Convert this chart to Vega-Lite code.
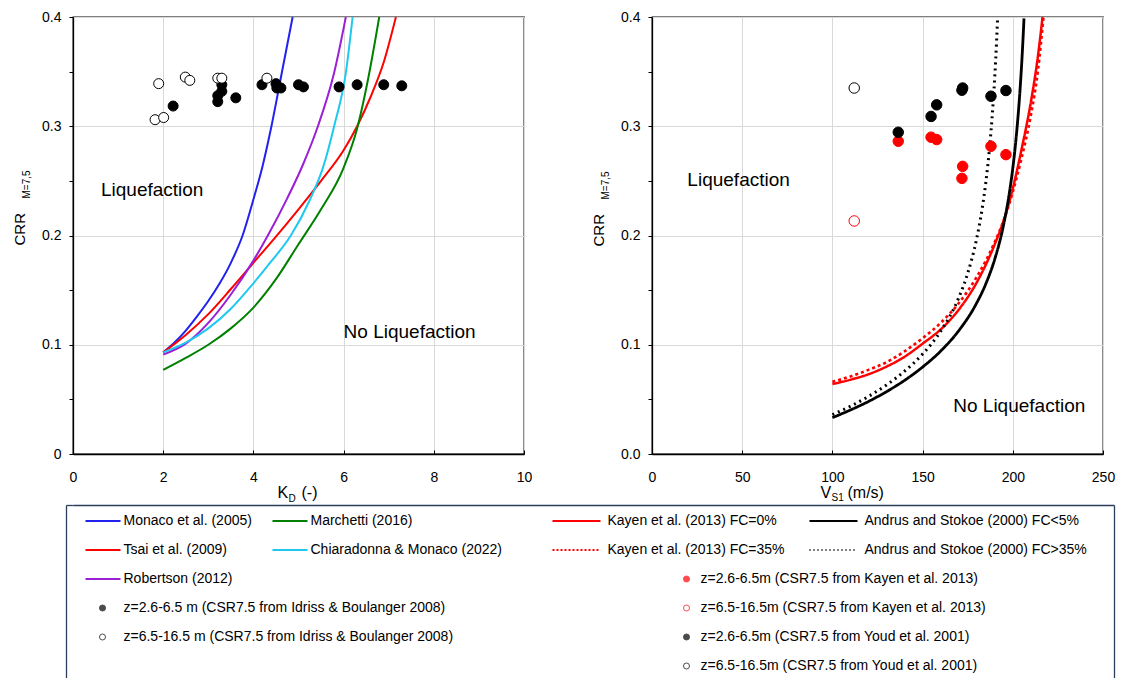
{
"$schema": "https://vega.github.io/schema/vega-lite/v6.json",
"padding": {"left": 11, "top": 9, "right": 0, "bottom": 0},
"background": "#ffffff",
"config": {
  "font": "Liberation Sans",
  "view": {"stroke": "#000000", "strokeWidth": 1.3},
  "axis": {"labelFont": "Liberation Sans", "titleFont": "Liberation Sans", "labelColor": "#000000", "titleColor": "#000000", "labelFontSize": 14, "titleFontWeight": "normal", "domainColor": "#000000", "domainWidth": 1.3, "tickColor": "#000000", "gridColor": "#d9d9d9", "gridWidth": 1},
  "legend": {"labelFont": "Liberation Sans", "labelFontSize": 14, "labelColor": "#000000", "labelLimit": 700, "padding": 0},
  "text": {"font": "Liberation Sans"}
},
"datasets": {
  "kd_curves": [
    {"ref": "Monaco et al. (2005)", "kd": 2.0, "crr": 0.093},
    {"ref": "Monaco et al. (2005)", "kd": 2.25, "crr": 0.102},
    {"ref": "Monaco et al. (2005)", "kd": 2.5, "crr": 0.113},
    {"ref": "Monaco et al. (2005)", "kd": 2.75, "crr": 0.126},
    {"ref": "Monaco et al. (2005)", "kd": 3.0, "crr": 0.140},
    {"ref": "Monaco et al. (2005)", "kd": 3.25, "crr": 0.156},
    {"ref": "Monaco et al. (2005)", "kd": 3.5, "crr": 0.175},
    {"ref": "Monaco et al. (2005)", "kd": 3.76, "crr": 0.200},
    {"ref": "Monaco et al. (2005)", "kd": 4.0, "crr": 0.233},
    {"ref": "Monaco et al. (2005)", "kd": 4.2, "crr": 0.263},
    {"ref": "Monaco et al. (2005)", "kd": 4.4, "crr": 0.300},
    {"ref": "Monaco et al. (2005)", "kd": 4.63, "crr": 0.349},
    {"ref": "Monaco et al. (2005)", "kd": 4.87, "crr": 0.400},
    {"ref": "Tsai et al. (2009)", "kd": 2.0, "crr": 0.093},
    {"ref": "Tsai et al. (2009)", "kd": 2.5, "crr": 0.109},
    {"ref": "Tsai et al. (2009)", "kd": 3.0, "crr": 0.128},
    {"ref": "Tsai et al. (2009)", "kd": 3.5, "crr": 0.151},
    {"ref": "Tsai et al. (2009)", "kd": 4.0, "crr": 0.175},
    {"ref": "Tsai et al. (2009)", "kd": 4.5, "crr": 0.199},
    {"ref": "Tsai et al. (2009)", "kd": 5.0, "crr": 0.224},
    {"ref": "Tsai et al. (2009)", "kd": 5.5, "crr": 0.250},
    {"ref": "Tsai et al. (2009)", "kd": 6.0, "crr": 0.278},
    {"ref": "Tsai et al. (2009)", "kd": 6.3, "crr": 0.300},
    {"ref": "Tsai et al. (2009)", "kd": 6.6, "crr": 0.327},
    {"ref": "Tsai et al. (2009)", "kd": 6.9, "crr": 0.360},
    {"ref": "Tsai et al. (2009)", "kd": 7.16, "crr": 0.400},
    {"ref": "Robertson (2012)", "kd": 2.0, "crr": 0.091},
    {"ref": "Robertson (2012)", "kd": 2.5, "crr": 0.101},
    {"ref": "Robertson (2012)", "kd": 3.0, "crr": 0.120},
    {"ref": "Robertson (2012)", "kd": 3.5, "crr": 0.146},
    {"ref": "Robertson (2012)", "kd": 4.0, "crr": 0.177},
    {"ref": "Robertson (2012)", "kd": 4.32, "crr": 0.200},
    {"ref": "Robertson (2012)", "kd": 4.75, "crr": 0.234},
    {"ref": "Robertson (2012)", "kd": 5.1, "crr": 0.265},
    {"ref": "Robertson (2012)", "kd": 5.43, "crr": 0.300},
    {"ref": "Robertson (2012)", "kd": 5.79, "crr": 0.349},
    {"ref": "Robertson (2012)", "kd": 6.05, "crr": 0.400},
    {"ref": "Chiaradonna & Monaco (2022)", "kd": 2.0, "crr": 0.093},
    {"ref": "Chiaradonna & Monaco (2022)", "kd": 2.5, "crr": 0.102},
    {"ref": "Chiaradonna & Monaco (2022)", "kd": 3.0, "crr": 0.115},
    {"ref": "Chiaradonna & Monaco (2022)", "kd": 3.5, "crr": 0.133},
    {"ref": "Chiaradonna & Monaco (2022)", "kd": 3.87, "crr": 0.150},
    {"ref": "Chiaradonna & Monaco (2022)", "kd": 4.39, "crr": 0.176},
    {"ref": "Chiaradonna & Monaco (2022)", "kd": 4.83, "crr": 0.200},
    {"ref": "Chiaradonna & Monaco (2022)", "kd": 5.25, "crr": 0.2325},
    {"ref": "Chiaradonna & Monaco (2022)", "kd": 5.55, "crr": 0.263},
    {"ref": "Chiaradonna & Monaco (2022)", "kd": 5.79, "crr": 0.300},
    {"ref": "Chiaradonna & Monaco (2022)", "kd": 6.05, "crr": 0.349},
    {"ref": "Chiaradonna & Monaco (2022)", "kd": 6.2, "crr": 0.400},
    {"ref": "Marchetti (2016)", "kd": 2.0, "crr": 0.077},
    {"ref": "Marchetti (2016)", "kd": 2.5, "crr": 0.088},
    {"ref": "Marchetti (2016)", "kd": 3.0, "crr": 0.100},
    {"ref": "Marchetti (2016)", "kd": 3.5, "crr": 0.115},
    {"ref": "Marchetti (2016)", "kd": 4.0, "crr": 0.134},
    {"ref": "Marchetti (2016)", "kd": 4.5, "crr": 0.160},
    {"ref": "Marchetti (2016)", "kd": 5.0, "crr": 0.192},
    {"ref": "Marchetti (2016)", "kd": 5.5, "crr": 0.224},
    {"ref": "Marchetti (2016)", "kd": 6.0, "crr": 0.262},
    {"ref": "Marchetti (2016)", "kd": 6.3, "crr": 0.298},
    {"ref": "Marchetti (2016)", "kd": 6.57, "crr": 0.349},
    {"ref": "Marchetti (2016)", "kd": 6.79, "crr": 0.400}
  ],
  "kd_points": [
    {"depth": "z=2.6-6.5 m (CSR7.5 from Idriss & Boulanger 2008)", "kd": 2.22, "crr": 0.3185},
    {"depth": "z=2.6-6.5 m (CSR7.5 from Idriss & Boulanger 2008)", "kd": 3.21, "crr": 0.3225},
    {"depth": "z=2.6-6.5 m (CSR7.5 from Idriss & Boulanger 2008)", "kd": 3.21, "crr": 0.328},
    {"depth": "z=2.6-6.5 m (CSR7.5 from Idriss & Boulanger 2008)", "kd": 3.30, "crr": 0.332},
    {"depth": "z=2.6-6.5 m (CSR7.5 from Idriss & Boulanger 2008)", "kd": 3.30, "crr": 0.338},
    {"depth": "z=2.6-6.5 m (CSR7.5 from Idriss & Boulanger 2008)", "kd": 3.61, "crr": 0.326},
    {"depth": "z=2.6-6.5 m (CSR7.5 from Idriss & Boulanger 2008)", "kd": 4.19, "crr": 0.338},
    {"depth": "z=2.6-6.5 m (CSR7.5 from Idriss & Boulanger 2008)", "kd": 4.50, "crr": 0.339},
    {"depth": "z=2.6-6.5 m (CSR7.5 from Idriss & Boulanger 2008)", "kd": 4.52, "crr": 0.335},
    {"depth": "z=2.6-6.5 m (CSR7.5 from Idriss & Boulanger 2008)", "kd": 4.61, "crr": 0.335},
    {"depth": "z=2.6-6.5 m (CSR7.5 from Idriss & Boulanger 2008)", "kd": 5.00, "crr": 0.338},
    {"depth": "z=2.6-6.5 m (CSR7.5 from Idriss & Boulanger 2008)", "kd": 5.11, "crr": 0.336},
    {"depth": "z=2.6-6.5 m (CSR7.5 from Idriss & Boulanger 2008)", "kd": 5.90, "crr": 0.336},
    {"depth": "z=2.6-6.5 m (CSR7.5 from Idriss & Boulanger 2008)", "kd": 6.30, "crr": 0.338},
    {"depth": "z=2.6-6.5 m (CSR7.5 from Idriss & Boulanger 2008)", "kd": 6.89, "crr": 0.338},
    {"depth": "z=2.6-6.5 m (CSR7.5 from Idriss & Boulanger 2008)", "kd": 7.29, "crr": 0.337},
    {"depth": "z=6.5-16.5 m (CSR7.5 from Idriss & Boulanger 2008)", "kd": 1.90, "crr": 0.339},
    {"depth": "z=6.5-16.5 m (CSR7.5 from Idriss & Boulanger 2008)", "kd": 2.49, "crr": 0.345},
    {"depth": "z=6.5-16.5 m (CSR7.5 from Idriss & Boulanger 2008)", "kd": 2.59, "crr": 0.342},
    {"depth": "z=6.5-16.5 m (CSR7.5 from Idriss & Boulanger 2008)", "kd": 3.21, "crr": 0.344},
    {"depth": "z=6.5-16.5 m (CSR7.5 from Idriss & Boulanger 2008)", "kd": 3.30, "crr": 0.344},
    {"depth": "z=6.5-16.5 m (CSR7.5 from Idriss & Boulanger 2008)", "kd": 4.30, "crr": 0.344},
    {"depth": "z=6.5-16.5 m (CSR7.5 from Idriss & Boulanger 2008)", "kd": 1.82, "crr": 0.306},
    {"depth": "z=6.5-16.5 m (CSR7.5 from Idriss & Boulanger 2008)", "kd": 2.01, "crr": 0.308}
  ],
  "vs_curves": [
    {"ref": "Kayen et al. (2013) FC=0%", "vs1": 100, "crr": 0.064},
    {"ref": "Kayen et al. (2013) FC=0%", "vs1": 110, "crr": 0.068},
    {"ref": "Kayen et al. (2013) FC=0%", "vs1": 120, "crr": 0.073},
    {"ref": "Kayen et al. (2013) FC=0%", "vs1": 130, "crr": 0.080},
    {"ref": "Kayen et al. (2013) FC=0%", "vs1": 140, "crr": 0.089},
    {"ref": "Kayen et al. (2013) FC=0%", "vs1": 150, "crr": 0.101},
    {"ref": "Kayen et al. (2013) FC=0%", "vs1": 160, "crr": 0.114},
    {"ref": "Kayen et al. (2013) FC=0%", "vs1": 170, "crr": 0.132},
    {"ref": "Kayen et al. (2013) FC=0%", "vs1": 180, "crr": 0.157},
    {"ref": "Kayen et al. (2013) FC=0%", "vs1": 190, "crr": 0.192},
    {"ref": "Kayen et al. (2013) FC=0%", "vs1": 195, "crr": 0.214},
    {"ref": "Kayen et al. (2013) FC=0%", "vs1": 200, "crr": 0.243},
    {"ref": "Kayen et al. (2013) FC=0%", "vs1": 205, "crr": 0.280},
    {"ref": "Kayen et al. (2013) FC=0%", "vs1": 210, "crr": 0.322},
    {"ref": "Kayen et al. (2013) FC=0%", "vs1": 214, "crr": 0.365},
    {"ref": "Kayen et al. (2013) FC=0%", "vs1": 216.5, "crr": 0.400},
    {"ref": "Kayen et al. (2013) FC=35%", "vs1": 100, "crr": 0.066},
    {"ref": "Kayen et al. (2013) FC=35%", "vs1": 110, "crr": 0.071},
    {"ref": "Kayen et al. (2013) FC=35%", "vs1": 120, "crr": 0.077},
    {"ref": "Kayen et al. (2013) FC=35%", "vs1": 130, "crr": 0.084},
    {"ref": "Kayen et al. (2013) FC=35%", "vs1": 140, "crr": 0.094},
    {"ref": "Kayen et al. (2013) FC=35%", "vs1": 150, "crr": 0.106},
    {"ref": "Kayen et al. (2013) FC=35%", "vs1": 160, "crr": 0.120},
    {"ref": "Kayen et al. (2013) FC=35%", "vs1": 170, "crr": 0.138},
    {"ref": "Kayen et al. (2013) FC=35%", "vs1": 180, "crr": 0.162},
    {"ref": "Kayen et al. (2013) FC=35%", "vs1": 190, "crr": 0.194},
    {"ref": "Kayen et al. (2013) FC=35%", "vs1": 195, "crr": 0.214},
    {"ref": "Kayen et al. (2013) FC=35%", "vs1": 200, "crr": 0.240},
    {"ref": "Kayen et al. (2013) FC=35%", "vs1": 205, "crr": 0.272},
    {"ref": "Kayen et al. (2013) FC=35%", "vs1": 210, "crr": 0.310},
    {"ref": "Kayen et al. (2013) FC=35%", "vs1": 214, "crr": 0.352},
    {"ref": "Kayen et al. (2013) FC=35%", "vs1": 217, "crr": 0.400},
    {"ref": "Andrus and Stokoe (2000) FC<5%", "vs1": 100, "crr": 0.0333},
    {"ref": "Andrus and Stokoe (2000) FC<5%", "vs1": 110, "crr": 0.0403},
    {"ref": "Andrus and Stokoe (2000) FC<5%", "vs1": 120, "crr": 0.0481},
    {"ref": "Andrus and Stokoe (2000) FC<5%", "vs1": 130, "crr": 0.0571},
    {"ref": "Andrus and Stokoe (2000) FC<5%", "vs1": 140, "crr": 0.0674},
    {"ref": "Andrus and Stokoe (2000) FC<5%", "vs1": 150, "crr": 0.0796},
    {"ref": "Andrus and Stokoe (2000) FC<5%", "vs1": 160, "crr": 0.0942},
    {"ref": "Andrus and Stokoe (2000) FC<5%", "vs1": 170, "crr": 0.1128},
    {"ref": "Andrus and Stokoe (2000) FC<5%", "vs1": 180, "crr": 0.1383},
    {"ref": "Andrus and Stokoe (2000) FC<5%", "vs1": 185, "crr": 0.1556},
    {"ref": "Andrus and Stokoe (2000) FC<5%", "vs1": 190, "crr": 0.1784},
    {"ref": "Andrus and Stokoe (2000) FC<5%", "vs1": 195, "crr": 0.2106},
    {"ref": "Andrus and Stokoe (2000) FC<5%", "vs1": 198, "crr": 0.2379},
    {"ref": "Andrus and Stokoe (2000) FC<5%", "vs1": 200, "crr": 0.2616},
    {"ref": "Andrus and Stokoe (2000) FC<5%", "vs1": 202, "crr": 0.2921},
    {"ref": "Andrus and Stokoe (2000) FC<5%", "vs1": 204, "crr": 0.3331},
    {"ref": "Andrus and Stokoe (2000) FC<5%", "vs1": 205, "crr": 0.3594},
    {"ref": "Andrus and Stokoe (2000) FC<5%", "vs1": 206, "crr": 0.3915},
    {"ref": "Andrus and Stokoe (2000) FC<5%", "vs1": 206.2, "crr": 0.3987},
    {"ref": "Andrus and Stokoe (2000) FC>35%", "vs1": 100, "crr": 0.0360},
    {"ref": "Andrus and Stokoe (2000) FC>35%", "vs1": 110, "crr": 0.0437},
    {"ref": "Andrus and Stokoe (2000) FC>35%", "vs1": 120, "crr": 0.0527},
    {"ref": "Andrus and Stokoe (2000) FC>35%", "vs1": 130, "crr": 0.0632},
    {"ref": "Andrus and Stokoe (2000) FC>35%", "vs1": 140, "crr": 0.0758},
    {"ref": "Andrus and Stokoe (2000) FC>35%", "vs1": 150, "crr": 0.0915},
    {"ref": "Andrus and Stokoe (2000) FC>35%", "vs1": 160, "crr": 0.1123},
    {"ref": "Andrus and Stokoe (2000) FC>35%", "vs1": 170, "crr": 0.1429},
    {"ref": "Andrus and Stokoe (2000) FC>35%", "vs1": 175, "crr": 0.1654},
    {"ref": "Andrus and Stokoe (2000) FC>35%", "vs1": 180, "crr": 0.1973},
    {"ref": "Andrus and Stokoe (2000) FC>35%", "vs1": 183, "crr": 0.2244},
    {"ref": "Andrus and Stokoe (2000) FC>35%", "vs1": 185, "crr": 0.2480},
    {"ref": "Andrus and Stokoe (2000) FC>35%", "vs1": 187, "crr": 0.2783},
    {"ref": "Andrus and Stokoe (2000) FC>35%", "vs1": 189, "crr": 0.3191},
    {"ref": "Andrus and Stokoe (2000) FC>35%", "vs1": 190, "crr": 0.3454},
    {"ref": "Andrus and Stokoe (2000) FC>35%", "vs1": 191, "crr": 0.3774},
    {"ref": "Andrus and Stokoe (2000) FC>35%", "vs1": 191.6, "crr": 0.4000}
  ],
  "vs_points": [
    {"group": "z=2.6-6.5m (CSR7.5 from Kayen et al. 2013)", "vs1": 136.5, "crr": 0.2863},
    {"group": "z=2.6-6.5m (CSR7.5 from Kayen et al. 2013)", "vs1": 154.7, "crr": 0.290},
    {"group": "z=2.6-6.5m (CSR7.5 from Kayen et al. 2013)", "vs1": 157.8, "crr": 0.2878},
    {"group": "z=2.6-6.5m (CSR7.5 from Kayen et al. 2013)", "vs1": 172.2, "crr": 0.2633},
    {"group": "z=2.6-6.5m (CSR7.5 from Kayen et al. 2013)", "vs1": 171.8, "crr": 0.2523},
    {"group": "z=2.6-6.5m (CSR7.5 from Kayen et al. 2013)", "vs1": 187.9, "crr": 0.2817},
    {"group": "z=2.6-6.5m (CSR7.5 from Kayen et al. 2013)", "vs1": 196.2, "crr": 0.274},
    {"group": "z=6.5-16.5m (CSR7.5 from Kayen et al. 2013)", "vs1": 112.1, "crr": 0.2133},
    {"group": "z=2.6-6.5m (CSR7.5 from Youd et al. 2001)", "vs1": 136.5, "crr": 0.2945},
    {"group": "z=2.6-6.5m (CSR7.5 from Youd et al. 2001)", "vs1": 154.7, "crr": 0.309},
    {"group": "z=2.6-6.5m (CSR7.5 from Youd et al. 2001)", "vs1": 157.8, "crr": 0.3196},
    {"group": "z=2.6-6.5m (CSR7.5 from Youd et al. 2001)", "vs1": 172.2, "crr": 0.335},
    {"group": "z=2.6-6.5m (CSR7.5 from Youd et al. 2001)", "vs1": 171.8, "crr": 0.333},
    {"group": "z=2.6-6.5m (CSR7.5 from Youd et al. 2001)", "vs1": 187.9, "crr": 0.3275},
    {"group": "z=2.6-6.5m (CSR7.5 from Youd et al. 2001)", "vs1": 196.2, "crr": 0.3327},
    {"group": "z=6.5-16.5m (CSR7.5 from Youd et al. 2001)", "vs1": 112.1, "crr": 0.335}
  ]
},
"columns": 1,
"spacing": 0,
"resolve": {
  "scale": {"color": "independent", "fill": "independent", "stroke": "independent", "strokeDash": "independent"},
  "legend": {"color": "independent", "fill": "independent", "stroke": "independent", "strokeDash": "independent"}
},
"concat": [
  {
    "spacing": 57,
    "resolve": {
      "scale": {"color": "independent", "fill": "independent", "stroke": "independent", "strokeDash": "independent"},
      "legend": {"color": "independent", "fill": "independent", "stroke": "independent", "strokeDash": "independent"}
    },
    "hconcat": [
      {
        "width": 451, "height": 437,
        "resolve": {"axis": {"x": "independent", "y": "independent"}},
        "layer": [
          {
            "data": {"name": "kd_curves"},
            "mark": {"type": "line", "strokeWidth": 2, "interpolate": "monotone", "clip": true},
            "encoding": {
              "x": {"field": "kd", "type": "quantitative", "scale": {"domain": [0, 10], "nice": false},
                "axis": {"values": [0, 2, 4, 6, 8, 10], "labelFlush": false, "ticks": true, "tickSize": -4, "labelPadding": 20, "grid": true,
                  "title": "K", "titleFontSize": 16, "titleAlign": "left", "titleBaseline": "alphabetic", "titleAngle": 0, "titleX": 204, "titleY": 43}},
              "y": {"field": "crr", "type": "quantitative", "scale": {"domain": [0, 0.4], "nice": false},
                "axis": {"values": [0, 0.05, 0.1, 0.15, 0.2, 0.25, 0.3, 0.35, 0.4],
                  "labelExpr": "round(datum.value*20) % 2 == 0 ? format(datum.value, '.1~f') : ''",
                  "tickSize": 4, "labelPadding": 8, "grid": true,
                  "gridOpacity": {"condition": {"test": "round(datum.value*20) % 2 == 1", "value": 0}, "value": 1},
                  "title": "CRR", "titleFontSize": 15, "titleAngle": -90, "titleAlign": "left", "titleBaseline": "alphabetic", "titleX": -49, "titleY": 228}},
              "color": {"field": "ref", "type": "nominal",
                "scale": {"domain": ["Monaco et al. (2005)", "Tsai et al. (2009)", "Robertson (2012)", "Marchetti (2016)", "Chiaradonna & Monaco (2022)"],
                  "range": ["#2222ee", "#ff0000", "#9a1fd6", "#008000", "#1ec8ef"]}, "legend": null}
            }
          },
          {
            "data": {"name": "kd_points"},
            "mark": {"type": "point", "shape": "circle", "size": 100, "filled": true, "opacity": 1, "stroke": "#000000", "strokeWidth": 1},
            "encoding": {
              "x": {"field": "kd", "type": "quantitative",
                "axis": {"orient": "bottom", "labels": false, "ticks": false, "domain": false, "grid": false,
                  "title": "D", "titleFontSize": 10, "titleAlign": "left", "titleBaseline": "alphabetic", "titleAngle": 0, "titleX": 215, "titleY": 47}},
              "y": {"field": "crr", "type": "quantitative",
                "axis": {"orient": "left", "labels": false, "ticks": false, "domain": false, "grid": false,
                  "title": "M=7,5", "titleFontSize": 10, "titleAngle": -90, "titleAlign": "left", "titleBaseline": "alphabetic", "titleX": -44, "titleY": 181}},
              "fill": {"field": "depth", "type": "nominal",
                "scale": {"domain": ["z=2.6-6.5 m (CSR7.5 from Idriss & Boulanger 2008)", "z=6.5-16.5 m (CSR7.5 from Idriss & Boulanger 2008)"], "range": ["#000000", "#ffffff"]}, "legend": null}
            }
          },
          {
            "data": {"values": [{"label": "Liquefaction", "kd": 0.62, "crr": 0.236}, {"label": "No Liquefaction", "kd": 6.0, "crr": 0.106}]},
            "mark": {"type": "text", "fontSize": 19, "align": "left", "baseline": "alphabetic", "color": "#000000"},
            "encoding": {
              "x": {"field": "kd", "type": "quantitative",
                "axis": {"orient": "bottom", "labels": false, "ticks": false, "domain": false, "grid": false,
                  "title": "(-)", "titleFontSize": 16, "titleAlign": "left", "titleBaseline": "alphabetic", "titleAngle": 0, "titleX": 228, "titleY": 43}},
              "y": {"field": "crr", "type": "quantitative", "axis": null},
              "text": {"field": "label"}
            }
          }
        ]
      },
      {
        "width": 451, "height": 437,
        "resolve": {"axis": {"x": "independent", "y": "independent"}},
        "layer": [
          {
            "data": {"name": "vs_curves"},
            "mark": {"type": "line", "interpolate": "monotone", "clip": true},
            "encoding": {
              "x": {"field": "vs1", "type": "quantitative", "scale": {"domain": [0, 250], "nice": false},
                "axis": {"values": [0, 50, 100, 150, 200, 250], "labelFlush": false, "ticks": true, "tickSize": -4, "labelPadding": 20, "grid": true,
                  "title": "V", "titleFontSize": 16, "titleAlign": "left", "titleBaseline": "alphabetic", "titleAngle": 0, "titleX": 168, "titleY": 43}},
              "y": {"field": "crr", "type": "quantitative", "scale": {"domain": [0, 0.4], "nice": false},
                "axis": {"values": [0, 0.05, 0.1, 0.15, 0.2, 0.25, 0.3, 0.35, 0.4],
                  "labelExpr": "round(datum.value*20) % 2 == 0 ? format(datum.value, '.1f') : ''",
                  "tickSize": 4, "labelPadding": 8, "grid": true,
                  "gridOpacity": {"condition": {"test": "round(datum.value*20) % 2 == 1", "value": 0}, "value": 1},
                  "title": "CRR", "titleFontSize": 15, "titleAngle": -90, "titleAlign": "left", "titleBaseline": "alphabetic", "titleX": -49, "titleY": 229}},
              "color": {"field": "ref", "type": "nominal",
                "scale": {"domain": ["Kayen et al. (2013) FC=0%", "Kayen et al. (2013) FC=35%", "Andrus and Stokoe (2000) FC<5%", "Andrus and Stokoe (2000) FC>35%"],
                  "range": ["#ff0000", "#ff0000", "#000000", "#000000"]}, "legend": null},
              "strokeDash": {"field": "ref", "type": "nominal",
                "scale": {"domain": ["Kayen et al. (2013) FC=0%", "Kayen et al. (2013) FC=35%", "Andrus and Stokoe (2000) FC<5%", "Andrus and Stokoe (2000) FC>35%"],
                  "range": [[1, 0], [3, 3], [1, 0], [2, 4]]}, "legend": null},
              "strokeWidth": {"field": "ref", "type": "nominal",
                "scale": {"domain": ["Kayen et al. (2013) FC=0%", "Kayen et al. (2013) FC=35%", "Andrus and Stokoe (2000) FC<5%", "Andrus and Stokoe (2000) FC>35%"],
                  "range": [2.5, 3, 2.5, 2]}, "legend": null}
            }
          },
          {
            "data": {"name": "vs_points"},
            "mark": {"type": "point", "shape": "circle", "size": 110, "filled": true, "opacity": 1, "strokeWidth": 1},
            "encoding": {
              "x": {"field": "vs1", "type": "quantitative",
                "axis": {"orient": "bottom", "labels": false, "ticks": false, "domain": false, "grid": false,
                  "title": "S1", "titleFontSize": 10, "titleAlign": "left", "titleBaseline": "alphabetic", "titleAngle": 0, "titleX": 179, "titleY": 46}},
              "y": {"field": "crr", "type": "quantitative",
                "axis": {"orient": "left", "labels": false, "ticks": false, "domain": false, "grid": false,
                  "title": "M=7,5", "titleFontSize": 10, "titleAngle": -90, "titleAlign": "left", "titleBaseline": "alphabetic", "titleX": -44, "titleY": 182}},
              "fill": {"field": "group", "type": "nominal",
                "scale": {"domain": ["z=2.6-6.5m (CSR7.5 from Kayen et al. 2013)", "z=6.5-16.5m (CSR7.5 from Kayen et al. 2013)", "z=2.6-6.5m (CSR7.5 from Youd et al. 2001)", "z=6.5-16.5m (CSR7.5 from Youd et al. 2001)"],
                  "range": ["#ff0000", "#ffffff", "#000000", "#ffffff"]}, "legend": null},
              "stroke": {"field": "group", "type": "nominal",
                "scale": {"domain": ["z=2.6-6.5m (CSR7.5 from Kayen et al. 2013)", "z=6.5-16.5m (CSR7.5 from Kayen et al. 2013)", "z=2.6-6.5m (CSR7.5 from Youd et al. 2001)", "z=6.5-16.5m (CSR7.5 from Youd et al. 2001)"],
                  "range": ["#ff0000", "#ff0000", "#000000", "#000000"]}, "legend": null}
            }
          },
          {
            "data": {"values": [{"label": "Liquefaction", "vs1": 19.6, "crr": 0.2456}, {"label": "No Liquefaction", "vs1": 167, "crr": 0.038}]},
            "mark": {"type": "text", "fontSize": 19, "align": "left", "baseline": "alphabetic", "color": "#000000"},
            "encoding": {
              "x": {"field": "vs1", "type": "quantitative",
                "axis": {"orient": "bottom", "labels": false, "ticks": false, "domain": false, "grid": false,
                  "title": "(m/s)", "titleFontSize": 16, "titleAlign": "left", "titleBaseline": "alphabetic", "titleAngle": 0, "titleX": 195, "titleY": 43}},
              "y": {"field": "crr", "type": "quantitative", "axis": null},
              "text": {"field": "label"}
            }
          }
        ]
      }
    ]
  },
  {
    "width": 1041, "height": 190,
    "view": {"stroke": null},
    "resolve": {
      "scale": {"color": "independent", "fill": "independent", "stroke": "independent", "strokeDash": "independent"},
      "legend": {"color": "independent", "fill": "independent", "stroke": "independent", "strokeDash": "independent"},
      "axis": {"x": "independent", "y": "independent"}
    },
    "layer": [
      {
        "data": {"name": "kd_curves"},
        "transform": [{"filter": "false"}],
        "mark": {"type": "line", "strokeWidth": 2},
        "encoding": {
          "x": {"field": "kd", "type": "quantitative", "scale": {"domain": [0, 1]},
            "axis": {"orient": "top", "domain": true, "domainColor": "#2b3e5c", "domainWidth": 1.3, "labels": false, "ticks": false, "grid": false, "title": null}},
          "y": {"field": "crr", "type": "quantitative", "scale": {"domain": [0, 1]},
            "axis": {"orient": "left", "offset": 7, "domain": true, "domainColor": "#2b3e5c", "domainWidth": 1.3, "values": [1], "ticks": true, "tickSize": -7, "tickColor": "#2b3e5c", "tickWidth": 1.3, "labels": false, "grid": false, "title": null}},
          "color": {"field": "ref", "type": "nominal",
            "scale": {"domain": ["Monaco et al. (2005)", "Tsai et al. (2009)", "Robertson (2012)", "Marchetti (2016)", "Chiaradonna & Monaco (2022)"],
              "range": ["#2222ee", "#ff0000", "#9a1fd6", "#008000", "#1ec8ef"]},
            "legend": {"title": null, "orient": "none", "legendX": 8.5, "legendY": 9, "columns": 2, "symbolType": "M-1.5,0H16", "symbolSize": 16, "symbolStrokeWidth": 2, "labelOffset": 28, "columnPadding": 16, "rowPadding": 15}}
        }
      },
      {
        "data": {"name": "kd_points"},
        "transform": [{"filter": "false"}],
        "mark": {"type": "point", "shape": "circle", "filled": true, "stroke": "#000000", "strokeWidth": 1},
        "encoding": {
          "x": {"field": "kd", "type": "quantitative", "scale": {"domain": [0, 1]}, "axis": null},
          "y": {"field": "crr", "type": "quantitative", "scale": {"domain": [0, 1]},
            "axis": {"orient": "right", "domain": true, "domainColor": "#2b3e5c", "domainWidth": 1.3, "labels": false, "ticks": false, "grid": false, "title": null}},
          "fill": {"field": "depth", "type": "nominal",
            "scale": {"domain": ["z=2.6-6.5 m (CSR7.5 from Idriss & Boulanger 2008)", "z=6.5-16.5 m (CSR7.5 from Idriss & Boulanger 2008)"], "range": ["#000000", "#ffffff"]},
            "legend": {"title": null, "orient": "none", "legendX": 22.5, "legendY": 96, "symbolType": "circle", "symbolSize": 36, "symbolStrokeWidth": 1, "symbolStrokeColor": "#000000", "labelOffset": 14, "rowPadding": 15}}
        }
      },
      {
        "data": {"name": "vs_curves"},
        "transform": [{"filter": "false"}],
        "mark": {"type": "line", "strokeWidth": 2},
        "encoding": {
          "x": {"field": "vs1", "type": "quantitative", "scale": {"domain": [0, 1]}, "axis": null},
          "y": {"field": "crr", "type": "quantitative", "scale": {"domain": [0, 1]}, "axis": null},
          "stroke": {"field": "ref", "type": "nominal",
            "scale": {"domain": ["Kayen et al. (2013) FC=0%", "Kayen et al. (2013) FC=35%", "Andrus and Stokoe (2000) FC<5%", "Andrus and Stokoe (2000) FC>35%"],
              "range": ["#ff0000", "#ff0000", "#000000", "#000000"]},
            "legend": {"title": null, "orient": "none", "legendX": 475.5, "legendY": 9, "columns": 2, "symbolType": "M-1.5,0H22.5", "symbolSize": 16, "symbolStrokeWidth": 2, "labelOffset": 45, "columnPadding": 20, "rowPadding": 15}},
          "strokeDash": {"field": "ref", "type": "nominal",
            "scale": {"domain": ["Kayen et al. (2013) FC=0%", "Kayen et al. (2013) FC=35%", "Andrus and Stokoe (2000) FC<5%", "Andrus and Stokoe (2000) FC>35%"],
              "range": [[1, 0], [2, 2], [1, 0], [1, 3]]},
            "legend": {"title": null, "orient": "none", "legendX": 475.5, "legendY": 9, "columns": 2, "symbolType": "M-1.5,0H22.5", "symbolSize": 16, "symbolStrokeWidth": 2, "labelOffset": 45, "columnPadding": 20, "rowPadding": 15}}
        }
      },
      {
        "data": {"name": "vs_points"},
        "transform": [{"filter": "false"}],
        "mark": {"type": "point", "shape": "circle", "filled": true, "strokeWidth": 1},
        "encoding": {
          "x": {"field": "vs1", "type": "quantitative", "scale": {"domain": [0, 1]}, "axis": null},
          "y": {"field": "crr", "type": "quantitative", "scale": {"domain": [0, 1]}, "axis": null},
          "fill": {"field": "group", "type": "nominal",
            "scale": {"domain": ["z=2.6-6.5m (CSR7.5 from Kayen et al. 2013)", "z=6.5-16.5m (CSR7.5 from Kayen et al. 2013)", "z=2.6-6.5m (CSR7.5 from Youd et al. 2001)", "z=6.5-16.5m (CSR7.5 from Youd et al. 2001)"],
              "range": ["#ff0000", "#ffffff", "#000000", "#ffffff"]},
            "legend": {"title": null, "orient": "none", "legendX": 606.5, "legendY": 67, "symbolType": "circle", "symbolSize": 36, "symbolStrokeWidth": 1, "labelOffset": 7, "rowPadding": 15}},
          "stroke": {"field": "group", "type": "nominal",
            "scale": {"domain": ["z=2.6-6.5m (CSR7.5 from Kayen et al. 2013)", "z=6.5-16.5m (CSR7.5 from Kayen et al. 2013)", "z=2.6-6.5m (CSR7.5 from Youd et al. 2001)", "z=6.5-16.5m (CSR7.5 from Youd et al. 2001)"],
              "range": ["#ff0000", "#ff0000", "#000000", "#000000"]},
            "legend": {"title": null, "orient": "none", "legendX": 606.5, "legendY": 67, "symbolType": "circle", "symbolSize": 36, "symbolStrokeWidth": 1, "labelOffset": 7, "rowPadding": 15}}
        }
      }
    ]
  }
]
}
